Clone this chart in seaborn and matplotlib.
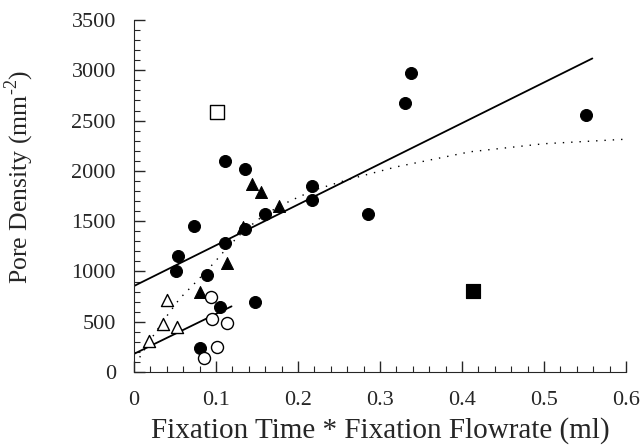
import matplotlib
matplotlib.use("Agg")
import matplotlib.pyplot as plt
import seaborn as sns
from matplotlib.ticker import MultipleLocator, FuncFormatter

# ======= DATA =======
filled_circle_x = [0.081, 0.051, 0.054, 0.073, 0.089, 0.105, 0.111, 0.111, 0.136,
                   0.136, 0.148, 0.160, 0.217, 0.217, 0.286, 0.330, 0.338, 0.551]
filled_circle_y = [240, 1000, 1150, 1454, 967, 649, 1279, 2100, 2018,
                   1421, 699, 1567, 1846, 1713, 1574, 2677, 2969, 2552]

filled_tri_x = [0.080, 0.113, 0.133, 0.144, 0.155, 0.177]
filled_tri_y = [800, 1085, 1445, 1869, 1789, 1650]

open_tri_x = [0.040, 0.036, 0.052, 0.018]
open_tri_y = [715, 480, 445, 305]

open_circle_x = [0.094, 0.095, 0.114, 0.101, 0.086]
open_circle_y = [746, 527, 490, 245, 139]

open_square_x = [0.101]
open_square_y = [2584]
filled_square_x = [0.413]
filled_square_y = [805]

# fitted lines as drawn
upper_line_x = [0.0, 0.559]
upper_line_y = [855, 3118]
lower_line_x = [0.0, 0.119]
lower_line_y = [180, 653]
dotted_x = [0.007, 0.020, 0.038, 0.056, 0.076, 0.097, 0.113, 0.133, 0.160,
            0.190, 0.220, 0.263, 0.320, 0.410, 0.500, 0.600]
dotted_y = [146, 318, 534, 732, 898, 1080, 1230, 1395, 1570,
            1700, 1810, 1918, 2040, 2190, 2270, 2315]
# =============================================

sns.set_style("ticks")
plt.rcParams['font.family'] = ['Liberation Serif', 'DejaVu Serif']
plt.rcParams['mathtext.fontset'] = 'custom'
plt.rcParams['mathtext.rm'] = 'Liberation Serif'
plt.rcParams['xtick.direction'] = 'in'
plt.rcParams['ytick.direction'] = 'in'

fig = plt.figure(figsize=(6.44, 4.45), dpi=100)
ax = fig.add_axes([0.208, 0.164, 0.764, 0.791])

# lines
sns.lineplot(x=upper_line_x, y=upper_line_y, color='black', lw=1.3, ax=ax, sort=False)
sns.lineplot(x=lower_line_x, y=lower_line_y, color='black', lw=1.3, ax=ax, sort=False)
sns.lineplot(x=dotted_x, y=dotted_y, color='black', lw=1.0, ax=ax, sort=False,
             linestyle=(0, (1, 5)))

# markers
msize = 75
sns.scatterplot(x=filled_circle_x, y=filled_circle_y, marker='o', s=msize,
                color='black', edgecolor='black', ax=ax, zorder=3)
sns.scatterplot(x=filled_tri_x, y=filled_tri_y, marker='^', s=msize,
                color='black', edgecolor='black', ax=ax, zorder=3)
sns.scatterplot(x=open_tri_x, y=open_tri_y, marker='^', s=msize,
                color='white', edgecolor='black', linewidth=1, ax=ax, zorder=3)
sns.scatterplot(x=open_circle_x, y=open_circle_y, marker='o', s=msize,
                color='white', edgecolor='black', linewidth=1, ax=ax, zorder=3)
sns.scatterplot(x=open_square_x, y=open_square_y, marker='s', s=110,
                color='white', edgecolor='black', linewidth=1, ax=ax, zorder=3)
sns.scatterplot(x=filled_square_x, y=filled_square_y, marker='s', s=110,
                color='black', edgecolor='black', ax=ax, zorder=3)

ax.set_xlim(0, 0.6)
ax.set_ylim(0, 3500)
ax.xaxis.set_major_locator(MultipleLocator(0.1))
ax.xaxis.set_minor_locator(MultipleLocator(0.02))
ax.yaxis.set_major_locator(MultipleLocator(500))
ax.yaxis.set_minor_locator(MultipleLocator(100))
ax.xaxis.set_major_formatter(FuncFormatter(lambda v, p: '0' if abs(v) < 1e-9 else f'{v:g}'))
ax.tick_params(which='major', length=8, width=1, labelsize=16)
ax.tick_params(axis='y', which='major', pad=13)
ax.tick_params(axis='x', which='major', pad=14)
ax.tick_params(which='minor', length=4, width=0.8)
sns.despine(ax=ax)

ax.set_xlabel('Fixation Time * Fixation Flowrate (ml)', fontsize=21, labelpad=5)
ax.set_ylabel('Pore Density (mm$^{\\text{-}2}$)', fontsize=18.5)
ax.yaxis.set_label_coords(-0.199, 0.554)

fig.savefig('out.png', dpi=100)
